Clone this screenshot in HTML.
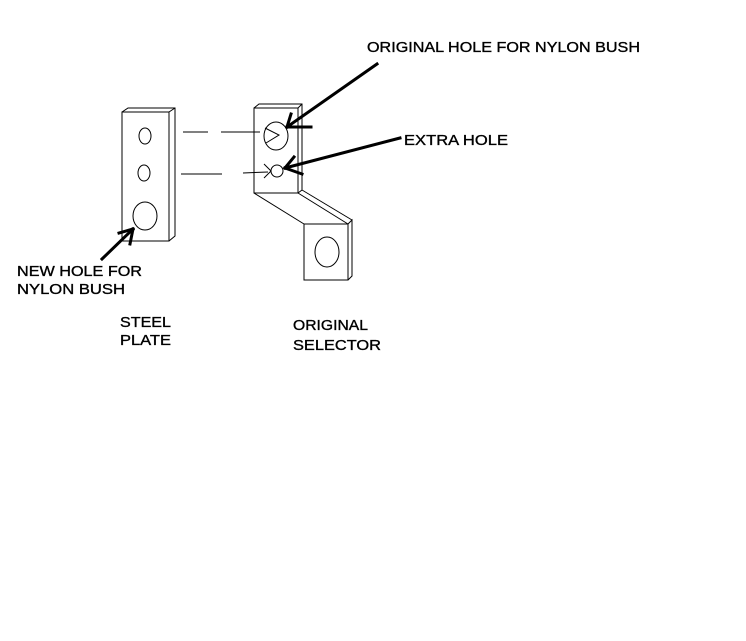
<!DOCTYPE html>
<html><head><style>
html,body{margin:0;padding:0;background:#fff;}
svg{display:block;}
text{font-family:"Liberation Sans",Arial,sans-serif;font-size:15px;fill:#000;stroke:#000;stroke-width:0.35;}
</style></head><body>
<svg width="746" height="641" viewBox="0 0 746 641" xmlns="http://www.w3.org/2000/svg">
<rect width="746" height="641" fill="#fff"/>
<g fill="none" stroke="#000" stroke-width="1">
<polygon points="122,112 169,112 169,241 122,241"/>
<polyline points="122,112 128,108 175,108 175,236 169,241"/>
<line x1="169" y1="112" x2="175" y2="108"/>
<ellipse cx="145" cy="136" rx="6" ry="8"/>
<ellipse cx="144" cy="173" rx="6" ry="8"/>
<ellipse cx="145" cy="216" rx="12" ry="14"/>
<line x1="183" y1="132" x2="208" y2="132"/>
<line x1="221" y1="132" x2="260" y2="132"/>
<line x1="181" y1="174" x2="222" y2="174"/>
<line x1="243" y1="173" x2="268" y2="172"/>
<polygon points="254,108 298,108 298,193 254,193"/>
<polyline points="254,108 259,104 302,104 302,190 298,193"/>
<line x1="298" y1="108" x2="302" y2="104"/>
<line x1="254" y1="193" x2="304" y2="224"/>
<line x1="298" y1="193" x2="348" y2="224"/>
<line x1="302" y1="190" x2="352" y2="220"/>
<polygon points="304,224 348,224 348,280 304,280"/>
<polyline points="348,224 352,220 352,276 348,280"/>
<ellipse cx="327" cy="252" rx="12" ry="15"/>
<ellipse cx="276" cy="136" rx="12" ry="14"/>
<polyline points="265,128 279,135 266,143"/>
<circle cx="277" cy="171" r="6"/>
<line x1="264" y1="164" x2="271" y2="171"/>
<line x1="264" y1="178" x2="271" y2="171"/>
</g>
<g stroke="#000" stroke-width="3" fill="none" stroke-linecap="square">
<line x1="377" y1="64" x2="287" y2="127"/>
<line x1="287" y1="127" x2="291" y2="114"/>
<line x1="287" y1="127" x2="311" y2="127"/>
<line x1="400" y1="138" x2="285" y2="168"/>
<line x1="285" y1="168" x2="294" y2="157"/>
<line x1="285" y1="168" x2="302" y2="174"/>
<line x1="102" y1="259" x2="133" y2="229"/>
<line x1="133" y1="229" x2="119" y2="233"/>
<line x1="133" y1="229" x2="130" y2="244"/>
</g>
<text x="367" y="52" textLength="273" lengthAdjust="spacingAndGlyphs">ORIGINAL HOLE FOR NYLON BUSH</text>
<text x="404" y="145" textLength="104" lengthAdjust="spacingAndGlyphs">EXTRA HOLE</text>
<text x="17" y="276" textLength="125" lengthAdjust="spacingAndGlyphs">NEW HOLE FOR</text>
<text x="17" y="294" textLength="108" lengthAdjust="spacingAndGlyphs">NYLON BUSH</text>
<text x="120" y="327" textLength="51" lengthAdjust="spacingAndGlyphs">STEEL</text>
<text x="120" y="345" textLength="51" lengthAdjust="spacingAndGlyphs">PLATE</text>
<text x="293" y="330" textLength="75" lengthAdjust="spacingAndGlyphs">ORIGINAL</text>
<text x="293" y="350" textLength="88" lengthAdjust="spacingAndGlyphs">SELECTOR</text>
</svg>
</body></html>
